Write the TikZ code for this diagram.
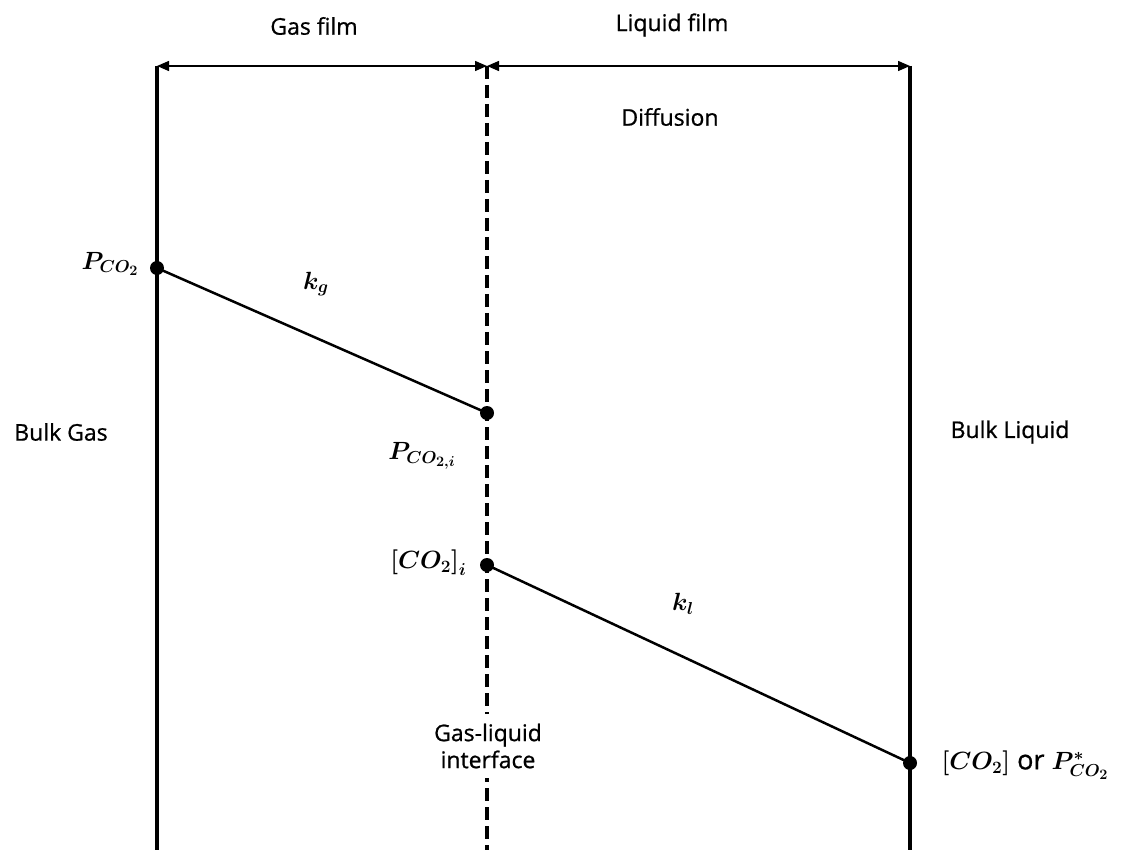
\documentclass[tikz,border=0pt]{standalone}
\usepackage{amsmath}
\usepackage{bm}
\usepackage{fontspec}
\setmainfont{Open Sans}[FakeBold=0.8]
\usetikzlibrary{arrows.meta}
\begin{document}
\begin{tikzpicture}[x=1pt,y=-1pt,
  wall/.style={line width=4pt},
  iface/.style={line width=4pt,dash pattern=on 13pt off 6pt},
  dim/.style={line width=1.4pt,{Triangle[length=12pt,width=10pt]}-{Triangle[length=12pt,width=10pt]}},
  prof/.style={line width=2.5pt},
  dot/.style={circle,fill=black,inner sep=0pt,minimum size=14pt},
  lbl/.style={font=\fontsize{23}{28}\selectfont},
  mlbl/.style={font=\fontsize{27}{32}\selectfont}]
\useasboundingbox (0,0) rectangle (1138,850);
% walls
\coordinate (LT) at (157,66); \coordinate (LB) at (157,850);
\coordinate (MT) at (487,66); \coordinate (MB) at (487,850);
\coordinate (RT) at (910,66); \coordinate (RB) at (910,850);
\draw[wall] (LT) -- (LB);
\draw[wall] (RT) -- (RB);
\draw[iface] (MT) -- (MB);
% dimension arrows
\draw[dim] (LT) -- (MT);
\draw[dim] (MT) -- (RT);
\node[lbl] (gf) at (314,26) {Gas film};
\node[lbl] (lf) at (672,25) {Liquid film};
\node[lbl] (dif) at (670,117) {Diffusion};
% profile points
\node[dot] (p1) at (157,268) {};
\node[dot] (p2) at (487,413) {};
\node[dot] (p3) at (487,565) {};
\node[dot] (p4) at (910,763) {};
\draw[prof] (p1.center) -- (p2.center);
\draw[prof] (p3.center) -- (p4.center);
% labels
\node[mlbl] (lp1) at (110,264) {$\bm{P_{CO_2}}$};
\node[mlbl] (lkg) at (316,284) {$\bm{k_g}$};
\node[mlbl] (lp2) at (422,456) {$\bm{P_{CO_{2,i}}}$};
\node[mlbl,anchor=east] (lp3) at (470,563) {$\bm{[CO_2]_i}$};
\node[mlbl] (lkl) at (683,604) {$\bm{k_l}$};
\node[mlbl,anchor=west] (lp4) at (938,765) {$\bm{[CO_2]}$ or $\bm{P^*_{CO_2}}$};
\node[lbl] (bg) at (61,432) {Bulk Gas};
\node[lbl] (bl) at (1010,432) {Bulk Liquid};
\node[lbl,fill=white,align=center,inner xsep=4pt,inner ysep=10pt] (gli) at (488,746) {Gas-liquid\\[-1pt]interface};
\end{tikzpicture}
\end{document}
